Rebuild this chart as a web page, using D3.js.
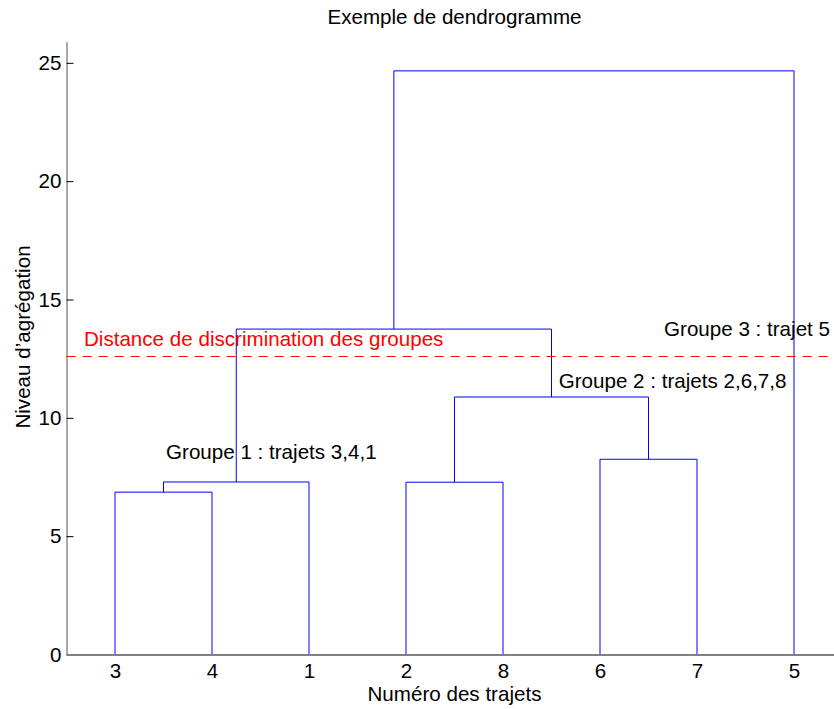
<!DOCTYPE html>
<html>
<head>
<meta charset="utf-8">
<script src="https://cdn.jsdelivr.net/npm/d3@7"></script>
<style>
  html, body { margin: 0; padding: 0; background: #fff; }
  svg { display: block; font-family: "Liberation Sans", Arial, Helvetica, sans-serif; }
</style>
</head>
<body>
<svg id="chart" width="834" height="709"></svg>
<script>
// ---- Data ----
const leafOrder = ["3", "4", "1", "2", "8", "6", "7", "5"];   // x tick labels (leaf order)
// Linkage (MATLAB style): leaves are 1..8, new clusters numbered 9, 10, ...
const linkLeft   = [3, 2, 9, 6, 10, 11, 14];
const linkRight  = [4, 8, 1, 7, 12, 13, 5];
const linkHeight = [6.86, 7.28, 7.29, 8.25, 10.88, 13.75, 24.66];
const yTicks = [0, 5, 10, 15, 20, 25];
const threshold = 12.59;
const annotations = [
  { text: "Groupe 1 : trajets 3,4,1", x: 1.526, y: 8.25, color: "#000" },
  { text: "Groupe 2 : trajets 2,6,7,8", x: 5.574, y: 11.25, color: "#000" },
  { text: "Groupe 3 : trajet 5", x: 6.66, y: 13.44, color: "#000" },
  { text: "Distance de discrimination des groupes", x: 0.68, y: 13.02, color: "#ff0000" }
];
const titleText = "Exemple de dendrogramme";
const xLabel = "Numéro des trajets";
const yLabel = "Niveau d\u2019agrégation";

(function draw() {
  const W = 834, H = 709;
  const mLeft = 66.5, mRight = 842.5, mTop = 41.7, mBottom = 654.5;
  const fontSize = 20.6;

  const svg = d3.select("#chart");

  const x = d3.scalePoint().domain(leafOrder).range([mLeft, mRight]).padding(0.5);
  const xi = d3.scaleLinear().domain([0.5, leafOrder.length + 0.5]).range([mLeft, mRight]);
  const yMax = d3.max(linkHeight) * 1.05;
  const y = d3.scaleLinear().domain([0, yMax]).range([mBottom, mTop]);

  const nLeaves = leafOrder.length;
  const nodeX = {}, nodeH = {};
  leafOrder.forEach(l => { nodeX[+l] = x(l); nodeH[+l] = 0; });
  linkLeft.forEach((a, i) => {
    const b = linkRight[i], id = nLeaves + 1 + i;
    nodeX[id] = (nodeX[a] + nodeX[b]) / 2;
    nodeH[id] = linkHeight[i];
  });
  const links = linkLeft.map((a, i) => ({ a, b: linkRight[i], h: linkHeight[i] }));

  svg.append("g")
    .selectAll("path")
    .data(links)
    .join("path")
    .attr("fill", "none")
    .attr("stroke", "#0000ff")
    .attr("stroke-width", 1)
    .attr("d", d => {
      const p = d3.path();
      p.moveTo(nodeX[d.a], y(nodeH[d.a]));
      p.lineTo(nodeX[d.a], y(d.h));
      p.lineTo(nodeX[d.b], y(d.h));
      p.lineTo(nodeX[d.b], y(nodeH[d.b]));
      return p.toString();
    });

  svg.append("line")
    .attr("x1", mLeft).attr("x2", W)
    .attr("y1", y(threshold)).attr("y2", y(threshold))
    .attr("stroke", "#ff0000")
    .attr("stroke-width", 1)
    .attr("stroke-dasharray", "9,7");

  const yAxis = d3.axisLeft(y).tickValues(yTicks).tickFormat(d3.format("d"))
    .tickSizeInner(-7).tickSizeOuter(0).tickPadding(5);
  const gy = svg.append("g").attr("transform", `translate(${mLeft},0)`).call(yAxis);
  gy.select(".domain").attr("stroke", "#555").attr("stroke-width", 1);
  gy.selectAll(".tick line").attr("stroke", "#000");
  gy.selectAll(".tick text").attr("font-size", fontSize).attr("font-family", "Liberation Sans, Arial, sans-serif").attr("fill", "#000");

  const xAxis = d3.axisBottom(x).tickSize(0).tickSizeOuter(0).tickPadding(9);
  const gx = svg.append("g").attr("transform", `translate(0,${mBottom})`).call(xAxis);
  gx.select(".domain").attr("stroke", "#808080").attr("stroke-width", 2);
  gx.selectAll(".tick text").attr("font-size", fontSize).attr("font-family", "Liberation Sans, Arial, sans-serif").attr("fill", "#000");

  svg.append("g")
    .selectAll("text")
    .data(annotations)
    .join("text")
    .attr("x", d => xi(d.x))
    .attr("y", d => y(d.y))
    .attr("font-size", fontSize)
    .attr("fill", d => d.color)
    .text(d => d.text);

  svg.append("text")
    .attr("x", (mLeft + mRight) / 2).attr("y", 24)
    .attr("text-anchor", "middle").attr("font-size", fontSize)
    .text(titleText);

  svg.append("text")
    .attr("x", (mLeft + mRight) / 2).attr("y", 701)
    .attr("text-anchor", "middle").attr("font-size", fontSize)
    .text(xLabel);

  svg.append("text")
    .attr("transform", `translate(30,337) rotate(-90)`)
    .attr("text-anchor", "middle").attr("font-size", fontSize)
    .text(yLabel);
})();
</script>
</body>
</html>
